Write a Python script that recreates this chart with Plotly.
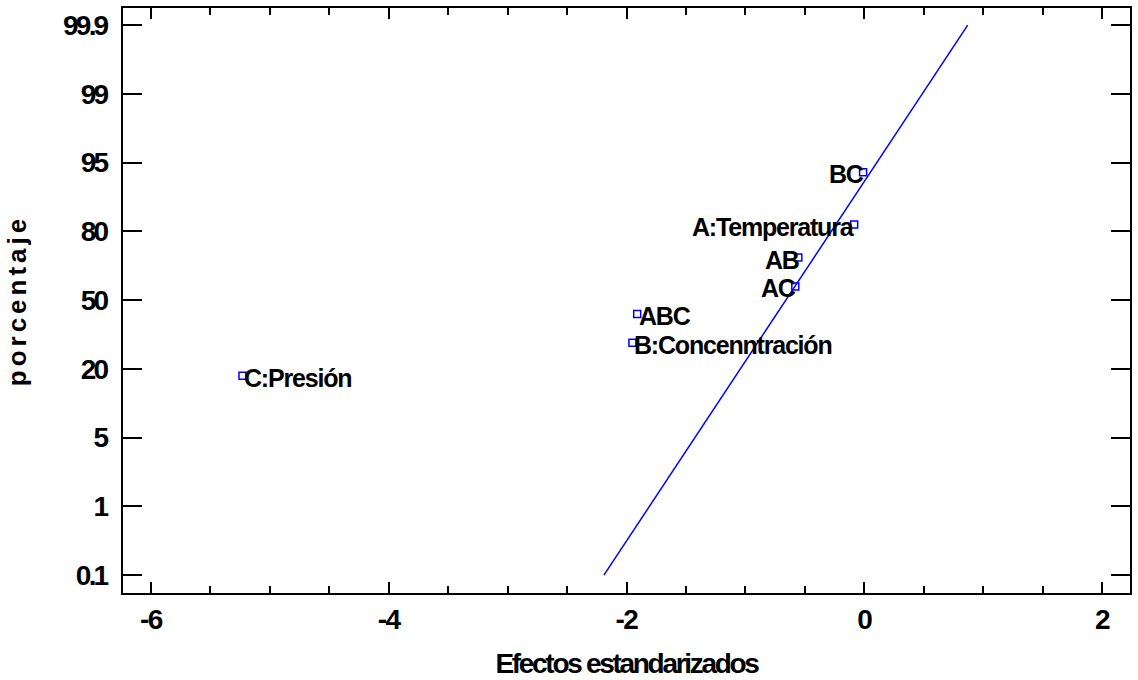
import plotly.graph_objects as go

# Data
effect_names = ["C:Presión", "B:Concenntración", "ABC", "AC", "AB", "A:Temperatura", "BC"]
effect_values = [-5.23, -1.95, -1.91, -0.58, -0.555, -0.085, -0.01]
# position on the (equally spaced) probability axis: 0 -> 0.1%, 8 -> 99.9%
prob_positions = [2.90, 3.38, 3.80, 4.20, 4.62, 5.10, 5.86]
label_side = ["right", "right", "right", "left", "left", "left", "left"]

prob_tick_labels = ["0.1", "1", "5", "20", "50", "80", "95", "99", "99.9"]
prob_tick_positions = list(range(len(prob_tick_labels)))
x_tick_values = [-6, -4, -2, 0, 2]

# Reference line ends
line_x = [-2.19, 0.87]
line_y = [0, 8]

FONT = "Liberation Sans, Arial, sans-serif"
BLUE = "#0000FF"


def tight(s, ls):
    return "<b><span style='letter-spacing:%spx'>%s</span></b>" % (ls, s)


fig = go.Figure()
fig.add_trace(go.Scatter(x=line_x, y=line_y, mode="lines",
                         line=dict(color=BLUE, width=1.5), showlegend=False,
                         hoverinfo="skip"))
fig.add_trace(go.Scatter(x=effect_values, y=prob_positions, mode="markers",
                         marker=dict(symbol="square-open", size=7,
                                     color=BLUE, line=dict(color=BLUE, width=1.5)),
                         text=effect_names, showlegend=False))

for name, xv, yv, side in zip(effect_names, effect_values, prob_positions, label_side):
    fig.add_annotation(x=xv, y=yv, text=tight(name, -1.2), showarrow=False,
                       xanchor="left" if side == "right" else "right",
                       xshift=1 if side == "right" else 2, yshift=-2, borderpad=0,
                       font=dict(family=FONT, size=25, color="black"))

fig.update_layout(
    width=1138, height=680,
    margin=dict(l=123, r=6, t=6, b=87),
    paper_bgcolor="white", plot_bgcolor="white",
    font=dict(family=FONT, color="black"),
)
fig.update_xaxes(
    range=[-6.235, 2.235],
    tickvals=x_tick_values,
    ticktext=[tight(str(v), -1.5) for v in x_tick_values],
    tickfont=dict(family=FONT, size=28, color="black"),
    ticks="inside", ticklen=11, tickwidth=2, tickcolor="black",
    minor=dict(dtick=0.5, tick0=0, ticks="inside", ticklen=7, tickwidth=2, tickcolor="black"),
    showline=True, linecolor="black", linewidth=2, mirror="ticks",
    showgrid=False, zeroline=False,
    ticklabelstandoff=0,
    title=dict(text=tight("Efectos estandarizados", -2.3),
               font=dict(family=FONT, size=28, color="black"), standoff=20),
)
fig.update_yaxes(
    range=[-0.26, 8.25],
    tickvals=prob_tick_positions,
    ticktext=[tight(t, -2.8) for t in prob_tick_labels],
    tickfont=dict(family=FONT, size=28, color="black"),
    ticks="inside", ticklen=19, tickwidth=2, tickcolor="black",
    showline=True, linecolor="black", linewidth=2, mirror="ticks",
    showgrid=False, zeroline=False,
    ticklabelstandoff=9,
    title=dict(text=tight("porcentaje", 4),
               font=dict(family=FONT, size=26, color="black"),
               standoff=29),
)

fig.write_html("out.html")
